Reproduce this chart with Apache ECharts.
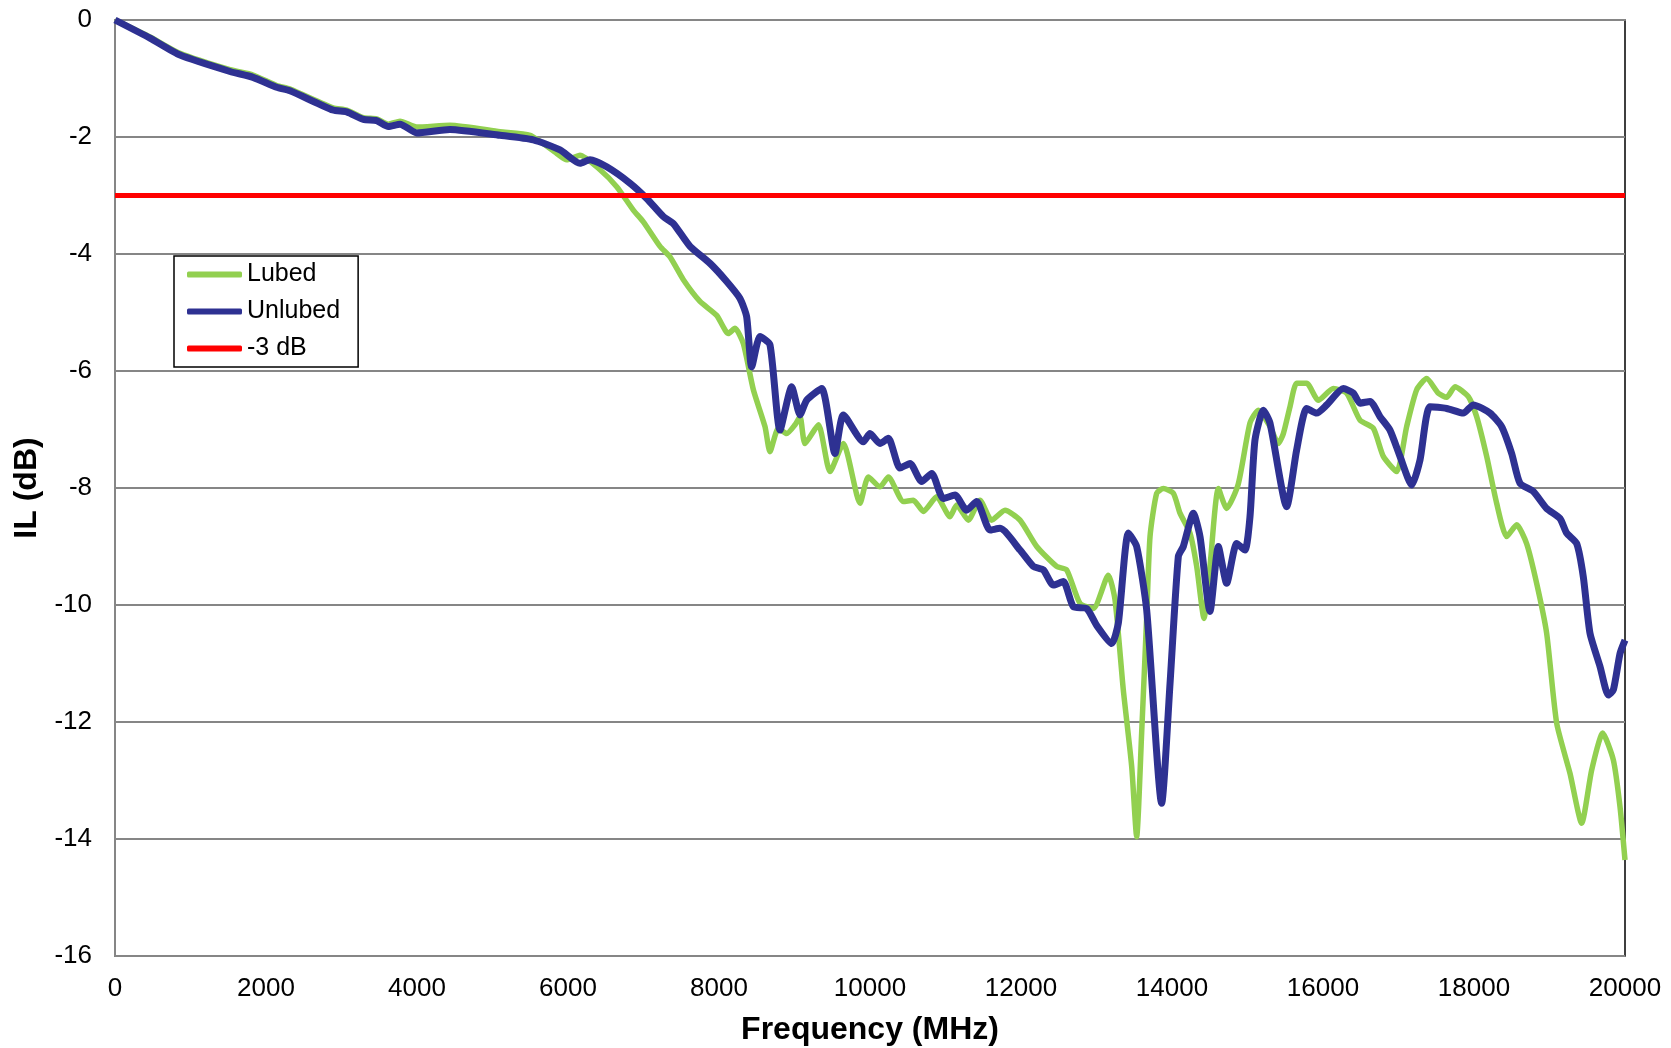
<!DOCTYPE html>
<html lang="en">
<head>
    <meta charset="UTF-8">
    <title>IL vs Frequency</title>
    <style>
        body, html {
            margin: 0;
            padding: 0;
            width: 100%;
            height: 100%;
            background: #fff;
        }

        #main {
            width: 1671px;
            height: 1048px;
        }
    </style>
</head>
<body>
<div id="main"></div>
<script src="https://cdn.jsdelivr.net/npm/echarts@6/dist/echarts.min.js"></script>
<script>

    // Lubed (green) - frequency in MHz, IL in dB
    let lubedFreq = [0, 464, 861, 1523, 1828, 2141, 2318, 2887, 3069, 3290, 3466, 3620, 3775, 3996, 4437, 5099, 5497,
        5850, 5982, 6159, 6424, 6645, 6865, 6998, 7219, 7351, 7528, 7748, 7969, 8124, 8212, 8322, 8455, 8609, 8675,
        8786, 8896, 9007, 9073, 9139, 9316, 9470, 9647, 9868, 9978, 10132, 10243, 10442, 10574, 10707, 10883, 11060,
        11148, 11302, 11457, 11611, 11788, 11987, 12208, 12472, 12605, 12781, 12958, 13157, 13245, 13355, 13466,
        13532, 13598, 13665, 13709, 13797, 13885, 14018, 14106, 14238, 14327, 14424, 14503, 14614, 14724, 14878,
        15033, 15143, 15298, 15408, 15475, 15563, 15651, 15784, 15938, 16137, 16314, 16490, 16667, 16799, 16976,
        17108, 17241, 17373, 17528, 17638, 17748, 17925, 18035, 18168, 18300, 18433, 18565, 18697, 18830, 18962,
        19095, 19272, 19426, 19559, 19705, 19846, 19934, 20000];
    let lubedIL = [0, -0.29, -0.57, -0.85, -0.94, -1.12, -1.18, -1.50, -1.54, -1.67, -1.69, -1.78, -1.73, -1.83, -1.80,
        -1.91, -1.97, -2.28, -2.39, -2.31, -2.56, -2.85, -3.25, -3.45, -3.87, -4.05, -4.44, -4.81, -5.05, -5.36, -5.27,
        -5.53, -6.32, -6.95, -7.38, -6.98, -7.07, -6.92, -6.78, -7.24, -6.92, -7.72, -7.24, -8.26, -7.81, -7.98, -7.81,
        -8.23, -8.21, -8.40, -8.15, -8.49, -8.29, -8.55, -8.21, -8.55, -8.38, -8.55, -9.00, -9.34, -9.40, -9.97, -10.06,
        -9.49, -9.91, -11.45, -12.76, -13.96, -12.19, -10.20, -8.83, -8.09, -8.01, -8.09, -8.43, -8.77, -9.34, -10.23,
        -9.34, -8.01, -8.35, -7.93, -6.89, -6.67, -6.95, -7.24, -7.07, -6.61, -6.21, -6.21, -6.50, -6.30, -6.38, -6.84,
        -6.98, -7.46, -7.72, -6.95, -6.32, -6.13, -6.38, -6.45, -6.27, -6.44, -6.78, -7.46, -8.26, -8.83, -8.63, -8.95,
        -9.63, -10.48, -12.02, -12.88, -13.73, -12.82, -12.19, -12.65, -13.45, -14.36];

    // Unlubed (blue)
    let unlubedFreq = [0, 464, 861, 1523, 1828, 2141, 2318, 2887, 3069, 3290, 3466, 3620, 3775, 3996, 4437, 5099, 5541,
        5894, 6159, 6291, 6512, 6821, 7042, 7262, 7395, 7616, 7881, 8102, 8278, 8366, 8433, 8543, 8675, 8808, 8963,
        9073, 9161, 9360, 9536, 9647, 9912, 10000, 10132, 10243, 10397, 10530, 10684, 10817, 10971, 11126, 11280,
        11413, 11589, 11722, 11987, 12163, 12296, 12428, 12561, 12693, 12870, 13003, 13201, 13289, 13422, 13532,
        13665, 13863, 13974, 14084, 14150, 14283, 14371, 14503, 14614, 14724, 14857, 14967, 15033, 15099, 15210,
        15298, 15519, 15651, 15784, 15916, 16049, 16269, 16402, 16490, 16623, 16755, 16887, 17020, 17175, 17285,
        17417, 17638, 17859, 17991, 18212, 18366, 18499, 18609, 18786, 18962, 19139, 19227, 19360, 19448, 19536,
        19669, 19779, 19846, 19934, 20000];
    let unlubedIL = [0, -0.31, -0.60, -0.88, -0.98, -1.15, -1.21, -1.54, -1.57, -1.70, -1.72, -1.82, -1.78, -1.93,
        -1.87, -1.97, -2.05, -2.22, -2.45, -2.39, -2.51, -2.79, -3.05, -3.36, -3.48, -3.87, -4.16, -4.47, -4.76, -5.07,
        -5.93, -5.41, -5.55, -7.01, -6.27, -6.75, -6.50, -6.30, -7.41, -6.75, -7.21, -7.07, -7.24, -7.15, -7.66, -7.58,
        -7.89, -7.75, -8.18, -8.12, -8.38, -8.23, -8.72, -8.69, -9.06, -9.34, -9.40, -9.66, -9.60, -10.03, -10.06,
        -10.35, -10.66, -10.31, -8.77, -9.00, -10.09, -13.39, -11.34, -9.17, -9.00, -8.43, -8.83, -10.11, -9.00, -9.63,
        -8.95, -9.06, -8.49, -7.18, -6.67, -6.89, -8.32, -7.35, -6.64, -6.72, -6.58, -6.30, -6.38, -6.55, -6.52, -6.78,
        -7.01, -7.46, -7.95, -7.52, -6.61, -6.64, -6.72, -6.58, -6.72, -6.95, -7.41, -7.92, -8.06, -8.35, -8.52, -8.77,
        -8.95, -9.52, -10.48, -11.05, -11.54, -11.45, -10.83, -10.60];

    // -3 dB reference
    let refFreq = [0, 20000];
    let refIL = [-3, -3];

    function pairs(xs, ys) {
        let out = [];
        for (let i = 0; i < xs.length; i++) {
            out.push([xs[i], ys[i]]);
        }
        return out;
    }

    let font = "'Liberation Sans', Arial, sans-serif";

    let myChart = echarts.init(document.getElementById('main'));
    let option = {
        animation: false,
        backgroundColor: '#fff',
        grid: {
            left: 115,
            top: 20,
            right: 46,
            bottom: 92,
            outerBoundsMode: 'none',
            containLabel: false,
            show: true,
            borderColor: '#000',
            borderWidth: 1.5
        },
        legend: {
            orient: 'vertical',
            left: 174,
            top: 256,
            padding: [6, 18, 6, 13],
            itemGap: 12,
            itemWidth: 55,
            itemHeight: 6,
            icon: 'roundRect',
            borderColor: '#000',
            borderWidth: 1.5,
            backgroundColor: '#fff',
            textStyle: {
                color: '#000',
                fontSize: 25,
                fontFamily: font
            },
            data: ['Lubed', 'Unlubed', '-3 dB']
        },
        xAxis: {
            type: 'value',
            min: 0,
            max: 20000,
            interval: 2000,
            name: 'Frequency (MHz)',
            nameLocation: 'middle',
            nameGap: 58,
            nameTextStyle: {
                color: '#000',
                fontSize: 32,
                fontWeight: 'bold',
                fontFamily: font
            },
            axisLine: {lineStyle: {color: '#868686', width: 2}},
            axisTick: {show: false},
            splitLine: {show: false},
            axisLabel: {
                color: '#000',
                fontSize: 26,
                fontFamily: font,
                margin: 20,
                formatter: function (v) {
                    return String(v);
                }
            }
        },
        yAxis: {
            type: 'value',
            min: -16,
            max: 0,
            interval: 2,
            name: 'IL (dB)',
            nameLocation: 'middle',
            nameGap: 70,
            nameTextStyle: {
                color: '#000',
                fontSize: 32,
                fontWeight: 'bold',
                fontFamily: font
            },
            axisLine: {show: true, lineStyle: {color: '#868686', width: 2}},
            axisTick: {show: false},
            splitLine: {lineStyle: {color: '#868686', width: 2}},
            axisLabel: {
                color: '#000',
                fontSize: 26,
                fontFamily: font,
                margin: 23
            }
        },
        series: [
            {
                name: 'Lubed',
                type: 'line',
                data: pairs(lubedFreq, lubedIL),
                symbol: 'none',
                smooth: 0.2,
                lineStyle: {color: '#92D050', width: 5.5},
                itemStyle: {color: '#92D050'},
                z: 2
            },
            {
                name: 'Unlubed',
                type: 'line',
                data: pairs(unlubedFreq, unlubedIL),
                symbol: 'none',
                smooth: 0.2,
                lineStyle: {color: '#2E3192', width: 7},
                itemStyle: {color: '#2E3192'},
                z: 3
            },
            {
                name: '-3 dB',
                type: 'line',
                data: pairs(refFreq, refIL),
                symbol: 'none',
                lineStyle: {color: '#FF0000', width: 5},
                itemStyle: {color: '#FF0000'},
                z: 4
            }
        ]
    };

    myChart.setOption(option);

</script>
</body>
</html>
